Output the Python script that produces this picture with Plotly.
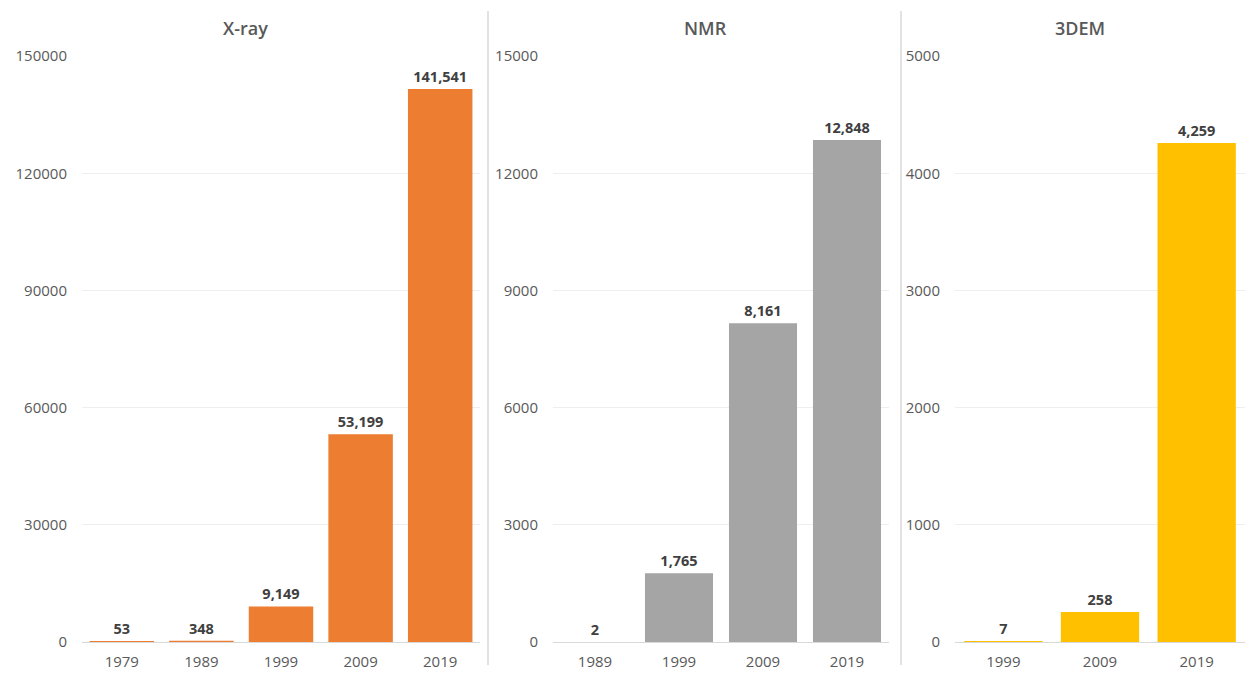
import plotly.graph_objects as go
from plotly.subplots import make_subplots

# Structures released per method, by year
xray_years = ["1979", "1989", "1999", "2009", "2019"]
xray_counts = [53, 348, 9149, 53199, 141541]

nmr_years = ["1989", "1999", "2009", "2019"]
nmr_counts = [2, 1765, 8161, 12848]

em_years = ["1999", "2009", "2019"]
em_counts = [7, 258, 4259]

panel_titles = ["X-ray", "NMR", "3DEM"]
y_ticks = [
    [0, 30000, 60000, 90000, 120000, 150000],
    [0, 3000, 6000, 9000, 12000, 15000],
    [0, 1000, 2000, 3000, 4000, 5000],
]
colors = ["#ED7D31", "#A5A5A5", "#FFC000"]

W, H = 1246, 674
# vertical placement helper: screen row -> paper fraction
Y_OFF, Y_SCALE = 10.0, 0.97


def px_x(x):
    return x / W


def px_y(y):
    return 1 - ((y - Y_OFF) / Y_SCALE) / H


x_domains = [(px_x(82), px_x(480)), (px_x(553), px_x(889)), (px_x(955), px_x(1245))]
y_domain = (px_y(641), px_y(55))

fig = make_subplots(rows=1, cols=3)

series = [(xray_years, xray_counts), (nmr_years, nmr_counts), (em_years, em_counts)]
FONT = "Open Sans, Liberation Sans, sans-serif"
TICK_FONT = dict(family=FONT, size=15, color="#595959")

for i, (cats, vals) in enumerate(series):
    fig.add_trace(
        go.Bar(
            x=cats,
            y=vals,
            marker=dict(color=colors[i], line=dict(width=0)),
            texttemplate="%{y:,}",
            textposition="outside",
            cliponaxis=False,
            textfont=dict(family=FONT, size=14.5, color="#404040", weight="bold"),
            showlegend=False,
        ),
        row=1,
        col=i + 1,
    )
    ax = "" if i == 0 else str(i + 1)
    fig.update_layout(
        {
            f"xaxis{ax}": dict(
                domain=list(x_domains[i]),
                type="category",
                showline=True,
                linecolor="#D9D9D9",
                linewidth=1,
                ticks="",
                showgrid=False,
                tickfont=TICK_FONT,
                ticklabelstandoff=6,
            ),
            f"yaxis{ax}": dict(
                domain=list(y_domain),
                range=[0, y_ticks[i][-1]],
                tickvals=y_ticks[i],
                tickformat="d",
                showgrid=True,
                gridcolor="#EEEEEE",
                gridwidth=1,
                zeroline=False,
                showline=False,
                ticks="",
                tickfont=TICK_FONT,
                ticklabelstandoff=14,
            ),
        }
    )

fig.update_layout(bargap=0.19)

title_x = [245, 705, 1080]
for t, x in zip(panel_titles, title_x):
    fig.add_annotation(
        text=t,
        x=px_x(x),
        y=px_y(27),
        xref="paper",
        yref="paper",
        showarrow=False,
        font=dict(family=FONT, size=18, color="#595959", weight=600),
        xanchor="center",
        yanchor="middle",
    )

for xd in [488, 901]:
    fig.add_shape(
        type="line",
        xref="paper",
        yref="paper",
        x0=px_x(xd),
        x1=px_x(xd),
        y0=0,
        y1=1,
        line=dict(color="#D9D9D9", width=1.5),
    )

fig.update_layout(
    width=W,
    height=H,
    margin=dict(l=0, r=0, t=0, b=0),
    paper_bgcolor="white",
    plot_bgcolor="white",
)

fig.write_html("out.html")
